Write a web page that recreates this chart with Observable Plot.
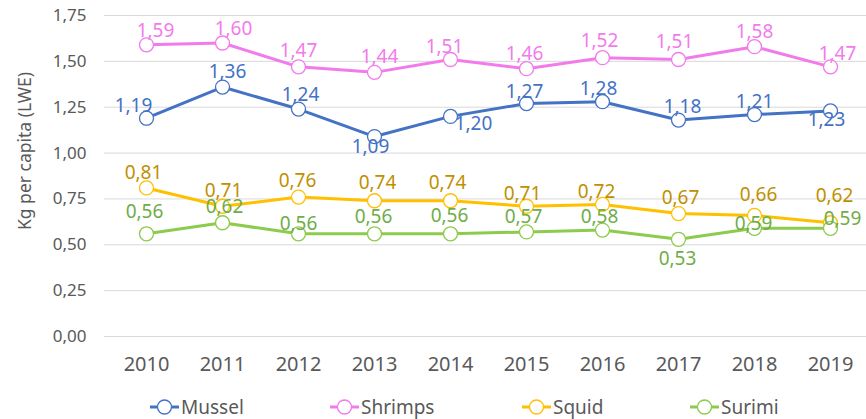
<!DOCTYPE html>
<html><head><meta charset="utf-8">
<script src="https://cdn.jsdelivr.net/npm/d3@7"></script>
<script src="https://cdn.jsdelivr.net/npm/@observablehq/plot@0.6"></script>
<style>
body{margin:0;background:#fff;font-family:"Noto Sans",sans-serif;}
#wrap{width:866px;height:419px;position:relative;overflow:hidden;background:#fff}
#legend{position:absolute;left:0;top:388px;width:866px;height:31px}
#ylabel{position:absolute;left:25px;top:151px;transform:translate(-50%,-50%) rotate(-90deg);font-size:17.5px;color:#595959;white-space:nowrap;line-height:1}
.item{position:absolute;top:0;height:37px;display:flex;align-items:center;font-size:19px;color:#595959;white-space:nowrap}
.item svg{display:block;margin-right:2px}
</style></head><body><div id="wrap"><div id="chart"></div><div id="ylabel"></div><div id="legend"></div></div>
<script>
const years = [2010, 2011, 2012, 2013, 2014, 2015, 2016, 2017, 2018, 2019];
const seriesNames = ["Mussel", "Shrimps", "Squid", "Surimi"];
const mussel  = [1.19, 1.36, 1.24, 1.09, 1.20, 1.27, 1.28, 1.18, 1.21, 1.23];
const shrimps = [1.59, 1.60, 1.47, 1.44, 1.51, 1.46, 1.52, 1.51, 1.58, 1.47];
const squid   = [0.81, 0.71, 0.76, 0.74, 0.74, 0.71, 0.72, 0.67, 0.66, 0.62];
const surimi  = [0.56, 0.62, 0.56, 0.56, 0.56, 0.57, 0.58, 0.53, 0.59, 0.59];
const yTicks = [0, 0.25, 0.5, 0.75, 1.0, 1.25, 1.5, 1.75];
const yLabel = "Kg per capita (LWE)";

// styling (kept apart from the data)
const lineColors  = ["#4472C4", "#F27BEC", "#FFC000", "#8CCB4D"];
const labelColors = ["#4472C4", "#F27BEC", "#BF9000", "#70AD47"];
const labelOffsets = [
  [[-13,-12],[5,-15],[2,-14],[-4,10],[23,8],[-2,-12],[-4,-13],[4,-13],[0,-13],[-4,9]],
  [[9,-14],[11,-14],[0,-16],[5,-15],[-6,-13],[-2,-15],[-3,-17],[-4,-18],[0,-15],[7,-13]],
  [[-3,-15],[1,-15],[-1,-16],[3,-18],[-3,-18],[-4,-12],[-6,-13],[2,-16],[4,-21],[4,-27]],
  [[-2,-22],[2,-16],[0,-10],[-1,-17],[-1,-18],[-3,-15],[-3,-13],[-1,20],[-1,-4],[12,-9]]
];

const values = [mussel, shrimps, squid, surimi];
const fmt = v => v.toFixed(2).replace(".", ",");

const rowsBySeries = seriesNames.map((name, s) =>
  years.map((year, i) => ({series: name, year, value: values[s][i]})));

const marks = [
  Plot.gridY(yTicks, {stroke: "#D9D9D9", strokeOpacity: 1, strokeWidth: 1}),
  Plot.axisY(yTicks, {tickSize: 0, tickPadding: 18, fontSize: 17, tickFormat: fmt, label: null}),
  Plot.axisX(years, {tickSize: 0, tickPadding: 20, fontSize: 20, tickFormat: d => String(d), label: null})
];
rowsBySeries.forEach((rows, s) => {
  marks.push(Plot.line(rows, {x: "year", y: "value", stroke: lineColors[s], strokeWidth: 3}));
  marks.push(Plot.dot(rows, {x: "year", y: "value", r: 7, fill: "white", stroke: lineColors[s], strokeWidth: 1.3}));
});
rowsBySeries.forEach((rows, s) => {
  rows.forEach((r, i) => {
    marks.push(Plot.text([r], {x: "year", y: "value", text: d => fmt(d.value),
      dx: labelOffsets[s][i][0], dy: labelOffsets[s][i][1], fill: labelColors[s], fontSize: 19}));
  });
});

const chart = Plot.plot({
  width: 866, height: 388,
  marginLeft: 104, marginRight: 0, marginTop: 15, marginBottom: 52,
  style: {fontFamily: "Noto Sans", color: "#595959", background: "white"},
  x: {type: "point", domain: years, range: [105, 871], padding: 0.5},
  y: {domain: [0, 1.75], range: [336, 15]},
  marks
});
document.getElementById("chart").appendChild(chart);
document.getElementById("ylabel").textContent = yLabel;

// legend
const legendLeft = [150, 330, 522, 690];
const legend = document.getElementById("legend");
seriesNames.forEach((name, s) => {
  const item = document.createElement("div");
  item.className = "item";
  item.style.left = legendLeft[s] + "px";
  item.innerHTML = `<svg width="29" height="16"><line x1="0" y1="8" x2="29" y2="8" stroke="${lineColors[s]}" stroke-width="3"/><circle cx="14.5" cy="8" r="7" fill="white" stroke="${lineColors[s]}" stroke-width="1.3"/></svg><span>${name}</span>`;
  legend.appendChild(item);
});
</script>
</body></html>
